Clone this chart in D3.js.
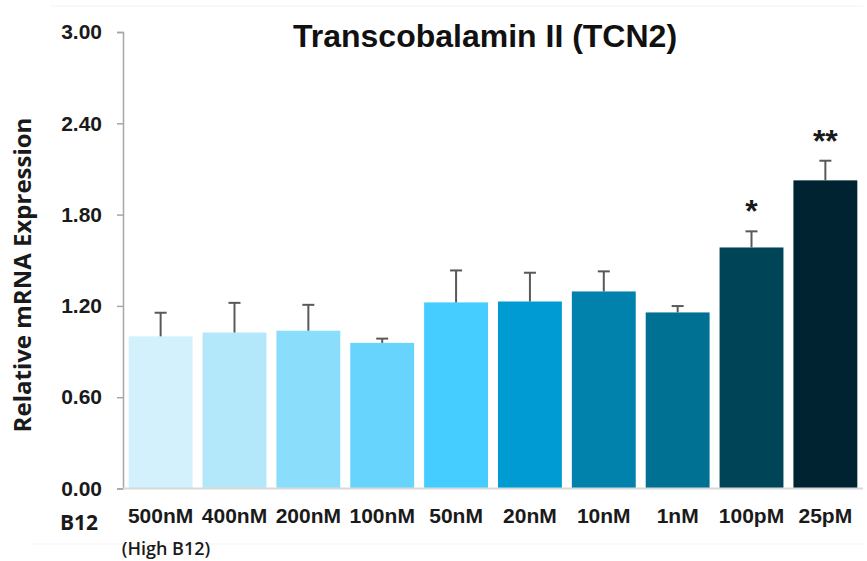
<!DOCTYPE html>
<html>
<head>
<meta charset="utf-8">
<script src="https://cdn.jsdelivr.net/npm/d3@7"></script>
<style>
  html, body { margin: 0; padding: 0; background: #fff; }
  svg { display: block; }
</style>
</head>
<body>
<svg id="chart" width="867" height="561"></svg>
<script>
// B12 concentrations, relative TCN2 expression, and SEM
const categories = ["500nM", "400nM", "200nM", "100nM", "50nM", "20nM", "10nM", "1nM", "100pM", "25pM"];
const values = [1.00, 1.025, 1.037, 0.957, 1.223, 1.229, 1.295, 1.157, 1.584, 2.025];
const errors = [0.155, 0.195, 0.170, 0.028, 0.210, 0.189, 0.132, 0.042, 0.106, 0.129];
const significance = ["", "", "", "", "", "", "", "", "*", "**"];
const colors = ["#d3f1fc", "#b2e8fa", "#8adefc", "#66d4fc", "#45cdff", "#019bd3", "#0082ad", "#007093", "#004458", "#002332"];
const yTicks = [0, 0.6, 1.2, 1.8, 2.4, 3.0];

const svg = d3.select("#chart");

const x = d3.scaleBand()
  .domain(categories)
  .range([123, 863])
  .paddingInner(0.135)
  .paddingOuter(0.077);

const y = d3.scaleLinear()
  .domain([0, 3])
  .range([488.5, 32]);

// faint frame edges
svg.append("line").attr("x1", 50).attr("x2", 863).attr("y1", 6).attr("y2", 6)
  .attr("stroke", "#f3f3f3").attr("stroke-width", 1);
svg.append("line").attr("x1", 30).attr("x2", 863).attr("y1", 544).attr("y2", 544)
  .attr("stroke", "#f3f3f3").attr("stroke-width", 1);

// Y axis
const yAxis = svg.append("g")
  .attr("transform", "translate(123,0)")
  .call(d3.axisLeft(y).tickValues(yTicks).tickFormat(d3.format(".2f")).tickSizeOuter(0).tickSize(6).tickPadding(15));
yAxis.select(".domain").attr("stroke", "#a6a6a6").attr("stroke-width", 1.5);
yAxis.selectAll(".tick line").attr("stroke", "#a6a6a6").attr("stroke-width", 1.5);
yAxis.selectAll(".tick text")
  .attr("font-family", "Liberation Sans, Arial, sans-serif")
  .attr("font-weight", "bold")
  .attr("font-size", 21)
  .attr("fill", "#1a1a1a");

// Bars
svg.append("g").selectAll("rect")
  .data(categories)
  .join("rect")
  .attr("x", d => x(d))
  .attr("width", x.bandwidth())
  .attr("y", (d, i) => y(values[i]))
  .attr("height", (d, i) => y(0) - y(values[i]))
  .attr("fill", (d, i) => colors[i]);

// X axis baseline
svg.append("line")
  .attr("x1", 123).attr("x2", 863)
  .attr("y1", y(0)).attr("y2", y(0))
  .attr("stroke", "#d9d9d9").attr("stroke-width", 2);

// Error bars (upper only)
const eb = svg.append("g").attr("stroke", "#595959").attr("stroke-width", 2);
categories.forEach((c, i) => {
  const cx = x(c) + x.bandwidth() / 2;
  eb.append("line").attr("x1", cx).attr("x2", cx)
    .attr("y1", y(values[i])).attr("y2", y(values[i] + errors[i]));
  eb.append("line").attr("x1", cx - 6).attr("x2", cx + 6)
    .attr("y1", y(values[i] + errors[i])).attr("y2", y(values[i] + errors[i]));
});

// Significance markers
svg.append("g").selectAll("text")
  .data(categories)
  .join("text")
  .attr("x", d => x(d) + x.bandwidth() / 2)
  .attr("y", (d, i) => y(values[i] + errors[i]) - 9)
  .attr("text-anchor", "middle")
  .attr("font-family", "Liberation Sans, Arial, sans-serif")
  .attr("font-weight", "bold")
  .attr("font-size", 32)
  .attr("fill", "#1a1a1a")
  .text((d, i) => significance[i]);

// Category labels
svg.append("g").selectAll("text")
  .data(categories)
  .join("text")
  .attr("x", d => x(d) + x.bandwidth() / 2)
  .attr("y", 523)
  .attr("text-anchor", "middle")
  .attr("font-family", "Liberation Sans, Arial, sans-serif")
  .attr("font-weight", "bold")
  .attr("font-size", 21)
  .attr("fill", "#1a1a1a")
  .text(d => d);

svg.append("text")
  .attr("x", 79).attr("y", 530)
  .attr("text-anchor", "middle")
  .attr("font-family", "Open Sans, Noto Sans, sans-serif")
  .attr("font-weight", "bold")
  .attr("font-size", 21)
  .attr("fill", "#1a1a1a")
  .text("B12");

svg.append("text")
  .attr("x", 166).attr("y", 555)
  .attr("text-anchor", "middle")
  .attr("font-family", "Open Sans, Noto Sans, sans-serif")
  .attr("font-weight", "600")
  .attr("font-size", 18)
  .attr("fill", "#1a1a1a")
  .text("(High B12)");

// Y axis title
svg.append("text")
  .attr("transform", "translate(31,275) rotate(-90)")
  .attr("text-anchor", "middle")
  .attr("font-family", "Open Sans, Noto Sans, sans-serif")
  .attr("font-weight", "bold")
  .attr("font-size", 24)
  .attr("fill", "#1a1a1a")
  .text("Relative mRNA Expression");

// Chart title
svg.append("text")
  .attr("x", 485).attr("y", 47)
  .attr("text-anchor", "middle")
  .attr("font-family", "Liberation Sans, Arial, sans-serif")
  .attr("font-weight", "bold")
  .attr("font-size", 32)
  .attr("fill", "#111")
  .text("Transcobalamin II (TCN2)");
</script>
</body>
</html>
